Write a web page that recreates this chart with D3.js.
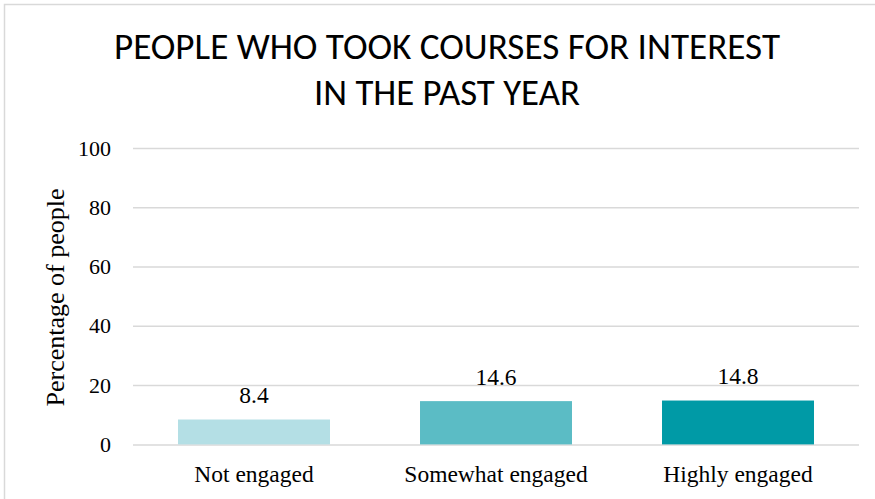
<!DOCTYPE html>
<html>
<head>
<meta charset="utf-8">
<script src="https://cdn.jsdelivr.net/npm/d3@7"></script>
<style>
  html, body { margin: 0; padding: 0; background: #ffffff; }
  svg { display: block; }
</style>
</head>
<body>
<svg id="chart" width="875" height="499"></svg>
<script>
// Chart content
const titleLines = ["PEOPLE WHO TOOK COURSES FOR INTEREST", "IN THE PAST YEAR"];
const categories = ["Not engaged", "Somewhat engaged", "Highly engaged"];
const values = [8.4, 14.6, 14.8];
const barColors = ["#b4dfe5", "#5bbcc5", "#009aa6"];
const yTicks = [0, 20, 40, 60, 80, 100];
const yAxisTitle = "Percentage of people";

const svg = d3.select("#chart");
const W = 875, H = 499;
const plot = { left: 133, right: 859, top: 148, bottom: 444.4 };
const serif = "'Liberation Serif', 'Times New Roman', serif";

// Outer chart frame
svg.append("rect")
  .attr("x", 4.5).attr("y", 4.5)
  .attr("width", W + 10).attr("height", H + 10)
  .attr("fill", "#ffffff")
  .attr("stroke", "#d9d9d9")
  .attr("stroke-width", 1.5);

const x = d3.scaleBand()
  .domain(categories)
  .range([plot.left, plot.right])
  .paddingInner(0.372)
  .paddingOuter(0.186);

const y = d3.scaleLinear()
  .domain([0, 100])
  .range([plot.bottom, plot.top]);

// Horizontal gridlines and tick labels
const yAxis = d3.axisLeft(y)
  .tickValues(yTicks)
  .tickSize(-(plot.right - plot.left))
  .tickPadding(22)
  .tickFormat(d3.format("d"));

const gy = svg.append("g")
  .attr("transform", `translate(${plot.left},0)`)
  .call(yAxis)
  .attr("font-family", serif);
gy.select(".domain").remove();
gy.selectAll(".tick line")
  .attr("stroke", "#d9d9d9")
  .attr("stroke-width", 1.5);
gy.selectAll(".tick text")
  .attr("font-family", serif)
  .attr("font-size", 22)
  .attr("fill", "#000000");

// Bars
svg.append("g")
  .selectAll("rect")
  .data(values)
  .join("rect")
  .attr("x", (d, i) => x(categories[i]))
  .attr("width", x.bandwidth())
  .attr("y", d => y(d))
  .attr("height", d => y(0) - y(d))
  .attr("fill", (d, i) => barColors[i]);

// Value labels
svg.append("g")
  .selectAll("text")
  .data(values)
  .join("text")
  .attr("x", (d, i) => x(categories[i]) + x.bandwidth() / 2)
  .attr("y", d => y(d) - 16.5)
  .attr("text-anchor", "middle")
  .attr("font-family", serif)
  .attr("font-size", 23.5)
  .attr("fill", "#000000")
  .text(d => d.toFixed(1));

// Category labels
const xAxis = d3.axisBottom(x).tickSize(0).tickPadding(0);
const gx = svg.append("g")
  .attr("transform", `translate(0,${plot.bottom})`)
  .call(xAxis)
  .attr("font-family", serif);
gx.select(".domain").remove();
gx.selectAll(".tick text")
  .attr("y", 37.3)
  .attr("dy", null)
  .attr("font-family", serif)
  .attr("font-size", 23.5)
  .attr("fill", "#000000");

// Y axis title
svg.append("text")
  .attr("transform", `translate(64,${(188 + 407) / 2}) rotate(-90)`)
  .attr("text-anchor", "middle")
  .attr("font-family", serif)
  .attr("font-size", 26)
  .attr("fill", "#000000")
  .text(yAxisTitle);

// Title
const titleBaselines = [59, 105];
const titleWidths = [666, 266];
svg.append("g")
  .selectAll("text")
  .data(titleLines)
  .join("text")
  .attr("x", (d, i) => i === 0 ? 114 : 314)
  .attr("y", (d, i) => titleBaselines[i])
  .attr("textLength", (d, i) => titleWidths[i])
  .attr("lengthAdjust", "spacingAndGlyphs")
  .attr("font-family", "Carlito, 'Liberation Sans Narrow', 'Open Sans', sans-serif")
  .attr("font-size", 37)
  .attr("fill", "#000000")
  .text(d => d);
</script>
</body>
</html>
